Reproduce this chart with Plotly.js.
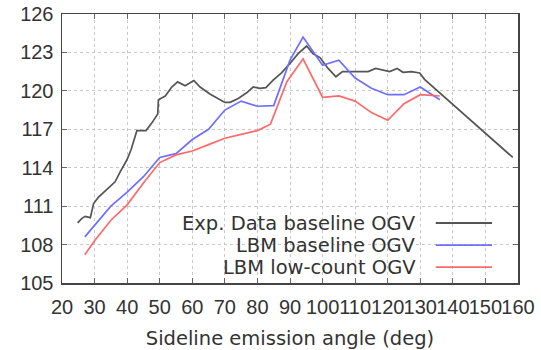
<!DOCTYPE html>
<html>
<head>
<meta charset="utf-8">
<script src="https://cdn.plot.ly/plotly-3.0.1.min.js"></script>
<style>html,body{margin:0;padding:0;background:#fff;}#chart{width:541px;height:350px;}</style>
</head>
<body>
<div id="chart"></div>
<script>
// Exp. Data baseline OGV
const expAngle = [24.8, 26.1, 27.1, 28.7, 29.7, 31.2, 33.8, 36.3, 37.9, 39.9, 41.2, 43, 45.8, 47.6, 49.4, 49.6, 51.7, 53.7, 55.5, 57.8, 60.5, 62.4, 65.4, 68, 70, 71.6, 74.1, 76.7, 78.7, 80.8, 82.6, 84.9, 87.4, 90, 92.5, 95.1, 97.1, 99.2, 101.7, 104.1, 106.1, 114, 116.3, 120.6, 122.9, 124.7, 127.3, 129.8, 131.3, 158.4];
const expSpl = [109.7, 110.05, 110.2, 110.1, 111.2, 111.7, 112.3, 112.9, 113.7, 114.6, 115.4, 116.9, 116.9, 117.5, 118.2, 119.3, 119.6, 120.3, 120.7, 120.4, 120.8, 120.3, 119.75, 119.35, 119.1, 119.1, 119.4, 119.85, 120.3, 120.2, 120.25, 120.85, 121.4, 122.15, 122.9, 123.5, 122.9, 122.6, 121.75, 121.1, 121.5, 121.5, 121.75, 121.5, 121.75, 121.45, 121.5, 121.4, 120.9, 114.8];

// LBM baseline OGV
const lbmBaseAngle = [27, 30, 35, 40, 45, 50, 55, 60, 65, 70, 75, 80, 85, 90, 94, 100, 105, 110, 115, 120, 125, 130, 136];
const lbmBaseSpl = [108.6, 109.5, 111.0, 112.1, 113.3, 114.8, 115.1, 116.2, 117.0, 118.5, 119.2, 118.8, 118.85, 122.4, 124.2, 122.0, 122.4, 121.0, 120.2, 119.7, 119.7, 120.3, 119.3];

// LBM low-count OGV
const lbmLowAngle = [27, 30, 35, 40, 45, 50, 55, 60, 65, 70, 75, 80, 84, 89, 94, 100, 105, 110, 115, 120, 125, 130, 136];
const lbmLowSpl = [107.2, 108.3, 109.9, 111.1, 112.8, 114.4, 115.0, 115.3, 115.8, 116.3, 116.6, 116.9, 117.4, 120.7, 122.5, 119.5, 119.6, 119.2, 118.3, 117.7, 119.0, 119.7, 119.6];

const seriesNames = ['Exp. Data baseline OGV', 'LBM baseline OGV', 'LBM low-count OGV'];
const seriesColors = ['rgb(85,85,85)', 'rgb(110,110,255)', 'rgb(255,105,105)'];
const yTicks = [105, 108, 111, 114, 117, 120, 123, 126];
const xTicks = [20, 30, 40, 50, 60, 70, 80, 90, 100, 110, 120, 130, 140, 150, 160];

const xs = [expAngle, lbmBaseAngle, lbmLowAngle];
const ys = [expSpl, lbmBaseSpl, lbmLowSpl];

const traces = xs.map((x, i) => ({
  x: x, y: ys[i], type: 'scatter', mode: 'lines', name: seriesNames[i],
  line: {color: seriesColors[i], width: 1.7}, showlegend: false, hoverinfo: 'skip'
}));

// custom legend (text right-aligned, sample line on the right)
const legY = [0.223, 0.141, 0.059];
const annotations = seriesNames.map((n, i) => ({
  xref: 'paper', yref: 'paper', x: 0.781, y: legY[i], xanchor: 'right', yanchor: 'middle',
  text: n, showarrow: false, font: {family: 'DejaVu Sans', size: 19.5, color: '#333'}
}));
const shapes = [{
  type: 'rect', xref: 'paper', yref: 'paper', x0: 0.166, x1: 0.975, y0: 0.0, y1: 0.268,
  fillcolor: '#fff', line: {width: 0}, layer: 'between'
}].concat(seriesNames.map((n, i) => ({
  type: 'line', xref: 'paper', yref: 'paper', x0: 0.8196, x1: 0.943, y0: legY[i], y1: legY[i],
  line: {color: seriesColors[i], width: 1.8}, layer: 'above'
})));

const axisCommon = {
  showline: true, linecolor: '#444', linewidth: 1.5, mirror: 'allticks',
  ticks: 'inside', ticklen: 5, tickcolor: '#666', tickwidth: 1,
  showgrid: true, gridcolor: '#c8c8c8', griddash: 'dot', gridwidth: 1,
  zeroline: false, tickfont: {family: 'Liberation Sans', size: 20, color: '#333'}
};

const layout = {
  width: 541, height: 350,
  margin: {l: 62, r: 23, t: 14, b: 67},
  paper_bgcolor: '#fff', plot_bgcolor: '#fff',
  xaxis: Object.assign({}, axisCommon, {
    range: [20, 160], tickvals: xTicks, ticktext: xTicks.map(String), tickangle: 0,
    ticklabelstandoff: 5,
    title: {text: 'Sideline emission angle (deg)', font: {family: 'DejaVu Sans', size: 19.5, color: '#333'}, standoff: 26}
  }),
  yaxis: Object.assign({}, axisCommon, {
    range: [105, 126], tickvals: yTicks, ticktext: yTicks.map(String), ticklabelstandoff: 3
  }),
  annotations: annotations,
  shapes: shapes
};

Plotly.newPlot('chart', traces, layout, {staticPlot: true, displayModeBar: false});
</script>
</body>
</html>
